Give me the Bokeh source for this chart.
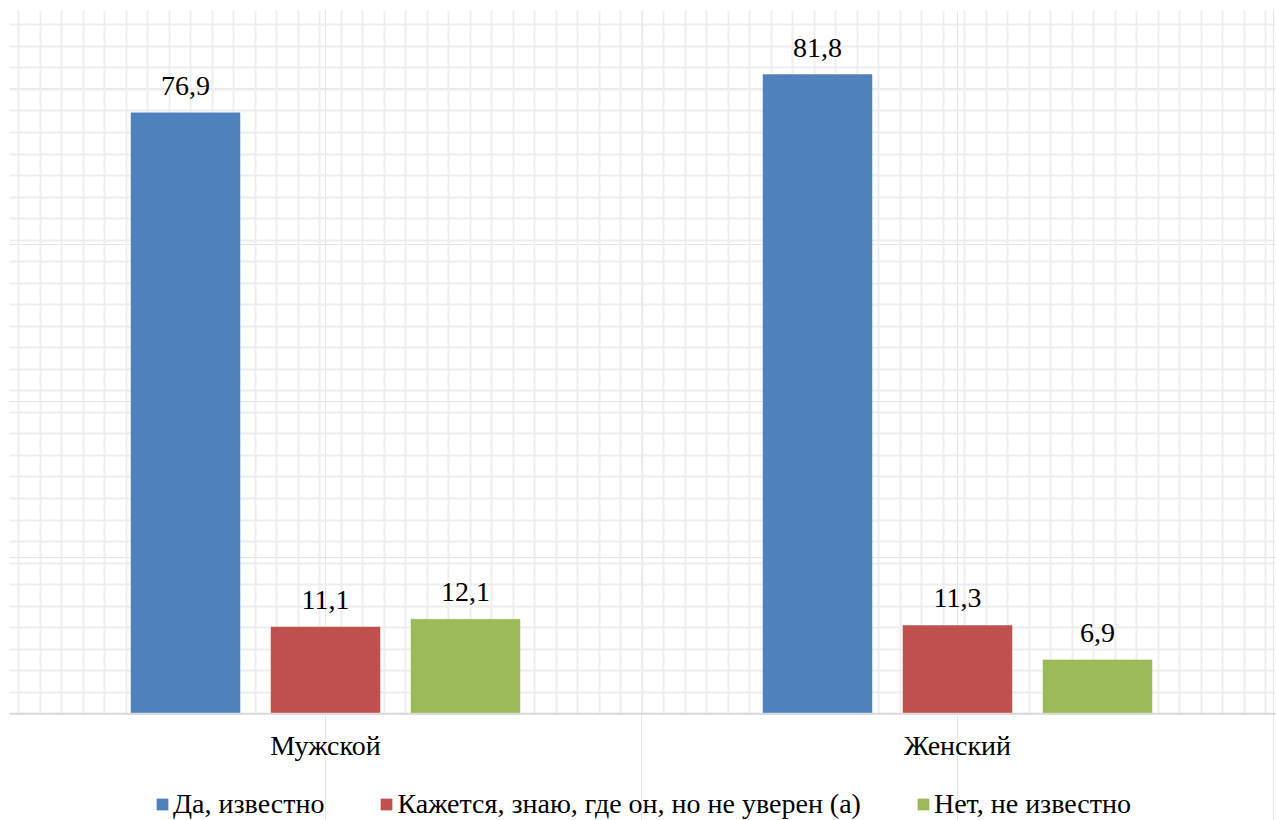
from bokeh.plotting import figure
from bokeh.models import (ColumnDataSource, FixedTicker, Grid, Legend, LegendItem,
                          Range1d, Span)
from bokeh.core.properties import value
from bokeh.embed import file_html
from bokeh.resources import INLINE

# ---- data ----
categories = ["Мужской", "Женский"]
series_names = ["Да, известно", "Кажется, знаю, где он, но не уверен (а)", "Нет, не известно"]
da_izvestno = [76.9, 81.8]
kazhetsya = [11.1, 11.3]
net_neizvestno = [12.1, 6.9]
series_values = [da_izvestno, kazhetsya, net_neizvestno]
colors = ["#4f81bd", "#c0504d", "#9bbb59"]

FONT = "Liberation Serif"

# ---- layout constants (pixels) ----
W, H = 1276, 820
LEFT, TOP = 9, 10
GROUP_PX = 632.0
FRAME_W = W - LEFT
FRAME_H = H - TOP
BASE_PX = 703.3              # pixels from frame top to the zero line
Y_MAX = 90.0
PX_PER_UNIT = BASE_PX / Y_MAX
Y_MIN = -(FRAME_H - BASE_PX) / PX_PER_UNIT
X_END = FRAME_W / GROUP_PX
BAR_W = 109 / GROUP_PX
OFFSETS = [-140 / GROUP_PX, 0.0, 140 / GROUP_PX]

p = figure(width=W, height=H, output_backend="svg", toolbar_location=None,
           x_range=Range1d(0, X_END), y_range=Range1d(Y_MIN, Y_MAX),
           x_axis_location=None, y_axis_location=None,
           min_border_left=LEFT, min_border_right=0,
           min_border_top=TOP, min_border_bottom=0)
p.outline_line_color = None
p.background_fill_color = "white"

# background square grid pattern (plot area only)
gstep_x = 21.5 / GROUP_PX
x0 = 9.3 / GROUP_PX
vticks = []
k = 0
while x0 + k * gstep_x < X_END:
    vticks.append(x0 + k * gstep_x)
    k += 1
gstep_y = 21.53 / PX_PER_UNIT
hticks = [j * gstep_y for j in range(1, 33)]
p.add_layout(Grid(dimension=0, ticker=FixedTicker(ticks=vticks), cross_bounds=(0, Y_MAX),
                  grid_line_color="#eeeeee", grid_line_width=2))
p.add_layout(Grid(dimension=1, ticker=FixedTicker(ticks=hticks),
                  grid_line_color="#eeeeee", grid_line_width=2))

# category axis baseline
p.add_layout(Span(location=0, dimension="width", line_color="#d9d9d9", line_width=2))

items = []
for si, (name, vals, col) in enumerate(zip(series_names, series_values, colors)):
    xs = [i + 0.5 + OFFSETS[si] for i in range(len(categories))]
    src = ColumnDataSource(dict(x=xs, top=vals,
                                lbl=[f"{v:.1f}".replace(".", ",") for v in vals]))
    r = p.vbar(x="x", top="top", width=BAR_W, bottom=0, source=src,
               fill_color=col, line_color=col, line_width=0.5)
    p.text(x="x", y="top", text="lbl", source=src, text_align="center",
           text_baseline="alphabetic", y_offset=-27, text_font=value(FONT),
           text_font_size="28px", text_color="black")
    items.append(LegendItem(label=name, renderers=[r]))

# category labels
cat_src = ColumnDataSource(dict(x=[i + 0.5 for i in range(len(categories))],
                                y=[0] * len(categories), t=categories))
p.text(x="x", y="y", text="t", source=cat_src, text_align="center",
       text_baseline="alphabetic", y_offset=32, text_font=value(FONT),
       text_font_size="28px", text_color="black")

legend = Legend(items=items, orientation="horizontal", location=(155 - LEFT, 0),
                glyph_width=14, glyph_height=14, label_standoff=4, spacing=55,
                padding=0, margin=0, border_line_color=None,
                background_fill_alpha=0, label_text_font=FONT,
                label_text_font_size="28px", label_text_color="black")
p.add_layout(legend, "center")

open("out.html", "w").write(file_html(p, INLINE))
